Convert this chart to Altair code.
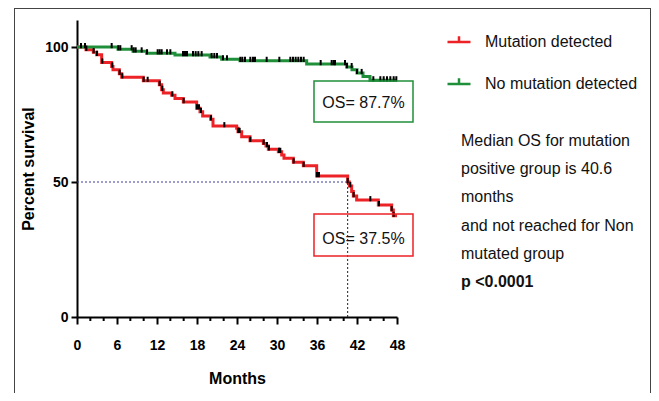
import altair as alt
import numpy as np
import pandas as pd

# ---------------- data ----------------
groups = ["Mutation detected", "No mutation detected"]
colors = ["#ec2227", "#1f8f3a"]

red_times = [0, 1.35, 2.45, 2.95, 3.7, 5.2, 5.4, 6.35, 6.7, 9.95, 12.35, 12.7, 12.95,
             14.2, 14.7, 15.95, 17.95, 18.45, 18.85, 20.05, 20.4, 23.95, 24.15, 24.7,
             25.95, 27.95, 28.35, 28.7, 30.2, 30.7, 31.05, 32.45, 33.95, 35.95, 40.6,
             40.85, 41.2, 41.45, 41.95, 45.2, 47.2, 47.45, 48]
red_surv = [100, 99.0, 98.1, 97.1, 94.3, 92.8, 91.6, 90.1, 88.8, 87.5, 86.0, 84.2, 83.0,
            82.1, 80.9, 79.6, 77.3, 76.0, 74.4, 73.2, 70.7, 69.9, 68.6, 66.8,
            65.3, 64.3, 63.3, 62.1, 61.2, 60.0, 58.8, 57.3, 56.0, 52.2, 50.0,
            48.5, 46.5, 44.8, 43.3, 41.5, 39.6, 37.5, 37.5]

green_times = [0, 6.15, 8.4, 10.45, 14.7, 19.95, 21.7, 24.45, 34.45, 40.45, 41.25, 42.0,
               42.9, 43.95, 48]
green_surv = [100, 99.2, 98.4, 97.7, 97.0, 96.3, 95.5, 94.9, 93.7, 92.6, 91.6, 90.4,
              89.1, 87.7, 87.7]

red_censor = [0.6, 1.4, 2.5, 3.0, 3.8, 5.3, 6.4, 6.8, 10.0, 10.6, 12.4, 12.8, 14.3, 16.0,
              18.0, 18.3, 18.6, 20.1, 22.1, 24.2, 24.4, 26.0, 28.0, 28.5, 28.8, 30.3,
              30.5, 32.5, 34.0, 36.0, 36.3, 40.6, 41.0, 41.5, 44.0, 45.3, 47.2, 47.5]
green_censor = [1.2, 5.2, 6.2, 6.5, 8.2, 8.5, 8.8, 9.7, 10.5, 12.1, 12.4, 12.7, 13.5, 14.0,
                15.9, 16.2, 16.5, 17.4, 17.8, 18.2, 18.7, 20.2, 20.6, 21.0, 21.9, 22.5,
                24.5, 24.8, 25.2, 26.0, 26.4, 26.7, 28.45, 30.35, 32.0, 32.4, 32.8, 33.2,
                33.6, 34.0, 36.55, 38.2, 38.5, 38.7, 40.2, 40.5, 41.2, 42.0, 42.7, 44.45,
                45.5, 46.0, 46.5, 47.0, 47.5, 47.9]

median_os = 40.6
x_major = list(range(0, 49, 6))
x_minor = [v for v in range(0, 49, 2) if v % 6 != 0]
y_ticks = [0, 50, 100]

note_lines = ["Median OS for mutation", "positive group is 40.6", "months",
              "and not reached for Non", "mutated group"]
p_text = "p <0.0001"

FONT = "Liberation Sans"

# ---------------- tables ----------------
curves = pd.concat([
    pd.DataFrame({"t": red_times, "s": red_surv, "group": groups[0]}),
    pd.DataFrame({"t": green_times, "s": green_surv, "group": groups[1]}),
])


def lookup(times, surv, ct):
    idx = np.searchsorted(np.array(times), np.array(ct), side="right") - 1
    return [surv[i] for i in idx]


censor = pd.concat([
    pd.DataFrame({"t": red_censor, "s": lookup(red_times, red_surv, red_censor)}),
    pd.DataFrame({"t": green_censor, "s": lookup(green_times, green_surv, green_censor)}),
])

med = pd.DataFrame({"x0": [0], "x": [median_os], "y0": [0], "y": [50]})
minor = pd.DataFrame({"t": x_minor})

W, H = 320, 297
xs = alt.Scale(domain=[0, 48], nice=False, zero=False)
ys = alt.Scale(domain=[0, 110], nice=False)

x_axis = alt.Axis(
    title="Months", values=x_major, tickSize=7,
    tickWidth=2, tickColor="black", domainWidth=2, domainColor="black",
    labelFont=FONT, labelFontSize=14, labelFontWeight="bold", labelColor="black",
    labelPadding=14, labelFlush=False, labelOverlap=False, labelSeparation=0,
    grid=False,
    titleFont=FONT, titleFontSize=16, titleFontWeight="bold", titleColor="black",
    titlePadding=18,
)
y_axis = alt.Axis(
    title="Percent survival", values=y_ticks, tickSize=6, tickWidth=2, tickColor="black",
    domainWidth=2, domainColor="black",
    labelFont=FONT, labelFontSize=14, labelFontWeight="bold", labelColor="black",
    labelPadding=3, labelOverlap=False, grid=False,
    titleFont=FONT, titleFontSize=16, titleFontWeight="bold", titleColor="black",
    titlePadding=8,
)

legend = alt.Legend(
    orient="none", legendX=369, legendY=9, title=None,
    symbolType="M-1,0H1M0,0V-0.5", symbolSize=529, symbolStrokeWidth=2.5,
    labelFont=FONT, labelFontSize=16, labelColor="#111", labelOffset=13,
    rowPadding=21, padding=0, symbolOffset=0,
)

lines = alt.Chart(curves).mark_line(interpolate="step-after", strokeWidth=3).encode(
    x=alt.X("t:Q", scale=xs, axis=x_axis),
    y=alt.Y("s:Q", scale=ys, axis=y_axis),
    color=alt.Color("group:N", scale=alt.Scale(domain=groups, range=colors),
                    sort=groups, legend=legend),
    detail="group:N",
)

ticks = alt.Chart(censor).mark_point(
    shape="M0,0.3V-1", filled=False, stroke="black", strokeWidth=2, size=64, opacity=1
).encode(x=alt.X("t:Q", scale=xs, axis=x_axis), y=alt.Y("s:Q", scale=ys, axis=y_axis))

minor_ticks = alt.Chart(minor).mark_rule(color="black", strokeWidth=2).encode(
    x=alt.X("t:Q", scale=xs, axis=x_axis), y=alt.value(H), y2=alt.value(H + 4))

hline = alt.Chart(med).mark_rule(color="#3b3b9c", strokeWidth=1, strokeDash=[2, 2]).encode(
    x=alt.X("x0:Q", scale=xs, axis=x_axis), x2="x:Q",
    y=alt.Y("y:Q", scale=ys, axis=y_axis))
vline = alt.Chart(med).mark_rule(color="#222", strokeWidth=1, strokeDash=[2, 2]).encode(
    x=alt.X("x:Q", scale=xs, axis=x_axis), y=alt.Y("y0:Q", scale=ys, axis=y_axis),
    y2="y:Q")

one = pd.DataFrame({"a": [0]})

box_g = alt.Chart(one).mark_rect(fill=None, stroke=colors[1], strokeWidth=1.5).encode(
    x=alt.value(237), x2=alt.value(336), y=alt.value(61), y2=alt.value(102))
box_r = alt.Chart(one).mark_rect(fill=None, stroke=colors[0], strokeWidth=1.5).encode(
    x=alt.value(237), x2=alt.value(336), y=alt.value(194), y2=alt.value(236))
txt_g = alt.Chart(one).mark_text(font=FONT, fontSize=16, color="#111", align="center",
                                 baseline="middle").encode(
    x=alt.value(286.5), y=alt.value(83), text=alt.value(f"OS= {green_surv[-1]}%"))
txt_r = alt.Chart(one).mark_text(font=FONT, fontSize=16, color="#111", align="center",
                                 baseline="middle").encode(
    x=alt.value(286.5), y=alt.value(219), text=alt.value(f"OS= {red_surv[-1]}%"))

note = alt.Chart(one).mark_text(font=FONT, fontSize=16, color="#111", align="left",
                                baseline="alphabetic", lineHeight=28.2).encode(
    x=alt.value(384), y=alt.value(126), text=alt.value(note_lines))
ptxt = alt.Chart(one).mark_text(font=FONT, fontSize=16, fontWeight="bold", color="#111",
                                align="left", baseline="middle").encode(
    x=alt.value(384), y=alt.value(262), text=alt.value(p_text))

frame_l = alt.Chart(one).mark_rule(color="#444", strokeWidth=1).encode(
    x=alt.value(-62.5), y=alt.value(-12), y2=alt.value(400))
frame_t = alt.Chart(one).mark_rule(color="#444", strokeWidth=1).encode(
    x=alt.value(-62.5), x2=alt.value(573.5), y=alt.value(-11.5))
frame_r = alt.Chart(one).mark_rule(color="#444", strokeWidth=1).encode(
    x=alt.value(573.5), y=alt.value(-12), y2=alt.value(400))

chart = alt.layer(
    frame_l, frame_t, frame_r, lines, hline, vline, minor_ticks, ticks, box_g, box_r,
    txt_g, txt_r, note, ptxt,
).properties(
    width=W, height=H,
    background="white",
    autosize=alt.AutoSizeParams(type="none"),
    padding={"left": 69, "top": 12, "right": 254, "bottom": 76},
).configure(view=alt.ViewConfig(stroke=None), axis=alt.AxisConfig(labelOverlap=False))

chart.save("out.html", embed_options={"renderer": "svg", "actions": False})
